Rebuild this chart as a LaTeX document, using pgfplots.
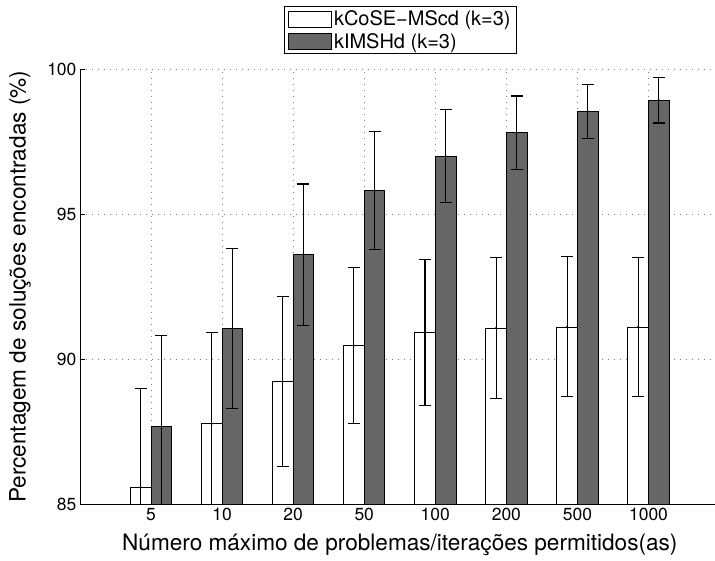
\documentclass[border=0pt]{standalone}
\usepackage{fontspec}
\setmainfont{TeX Gyre Heros}
\usepackage{pgfplots}
\pgfplotsset{compat=1.18}
\usepackage{pgfplotstable}
\definecolor{darkbar}{RGB}{102,102,102}
\pgfplotstableread{
x y e
0.855 85.60 3.40
1.855 87.79 3.13
2.855 89.24 2.93
3.855 90.48 2.68
4.855 90.92 2.51
5.855 91.08 2.42
6.855 91.12 2.41
7.855 91.12 2.40
}\whitedata
\pgfplotstableread{
x y e
1.145 87.69 3.15
2.145 91.06 2.75
3.145 93.61 2.43
4.145 95.81 2.03
5.145 97.00 1.60
6.145 97.80 1.27
7.145 98.54 0.93
8.145 98.92 0.78
}\darkdata
\begin{document}
\begin{tikzpicture}
\begin{axis}[
  at={(0,0)}, anchor=south west,
  scale only axis, width=635bp, height=436bp,
  xmin=0, xmax=8.93, ymin=85, ymax=100,
  xtick={1,...,8}, xticklabels={5,10,20,50,100,200,500,1000},
  ytick={85,90,95,100},
  axis x line*=bottom, axis y line*=left,
  axis line style={-, line width=0.8bp},
  tick align=inside, major tick length=5bp,
  tick style={black, line width=0.8bp},
  grid=major, grid style={dash pattern=on 1bp off 5bp, gray, line width=0.8bp},
  /pgf/number format/assume math mode=true,
  tick label style={font=\fontsize{17.5bp}{20bp}\selectfont},
  label style={font=\fontsize{22.6bp}{26bp}\selectfont},
  xlabel={Número máximo de problemas/iterações permitidos(as)},
  ylabel={Percentagem de soluções encontradas (\%)},
  xlabel style={at={(axis description cs:0.504,-0.1055)}, anchor=base},
  ylabel style={at={(axis description cs:-0.0945,0.5)}, anchor=center},
  legend style={at={(axis description cs:0.505,1)}, anchor=south, yshift=15bp,
    draw=black, line width=0.8bp, font=\fontsize{20bp}{24bp}\selectfont,
    inner xsep=4bp, inner ysep=2bp, row sep=2bp},
  legend cell align=left,
  legend image code/.code={\draw[#1, line width=0.8bp] (0bp,-8bp) rectangle (43bp,8bp);},
]
\addplot[ybar, bar width=0.29, bar shift=0, fill=white, draw=black, line width=0.8bp]
  table[x=x, y=y] {\whitedata};
\addlegendentry{kCoSE−MScd (k=3)}
\addplot[ybar, bar width=0.29, bar shift=0, fill=darkbar, draw=black, line width=0.8bp]
  table[x=x, y=y] {\darkdata};
\addlegendentry{kIMSHd (k=3)}
\addplot[only marks, mark=*, mark size=0.8bp, black, forget plot,
  error bars/.cd, y dir=both, y explicit, error mark=-,
  error bar style={black, line width=1.1bp},
  error mark options={rotate=90, black, mark size=6bp, line width=1.1bp}]
  table[x=x, y=y, y error=e] {\whitedata};
\addplot[only marks, mark=*, mark size=0.8bp, black, forget plot,
  error bars/.cd, y dir=both, y explicit, error mark=-,
  error bar style={black, line width=1.1bp},
  error mark options={rotate=90, black, mark size=6bp, line width=1.1bp}]
  table[x=x, y=y, y error=e] {\darkdata};
\end{axis}
\path[use as bounding box] (-80bp,-56bp) rectangle (635bp,505bp);
\end{tikzpicture}
\end{document}
